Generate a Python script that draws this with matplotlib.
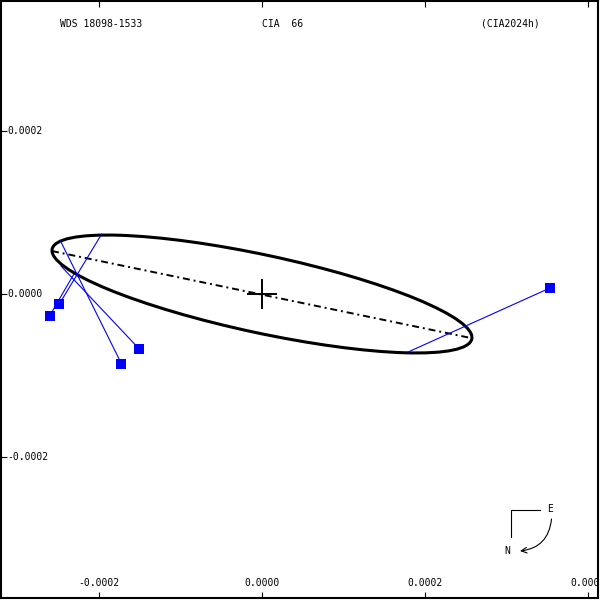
import matplotlib
matplotlib.use('Agg')
import matplotlib.pyplot as plt
import matplotlib.transforms as mtransforms
from matplotlib.lines import Line2D
from matplotlib.patches import Ellipse

# measured positions (blue squares)
obsX = [-2.490e-4, -2.608e-4, -1.507e-4, -1.728e-4, 3.538e-4]
obsY = [-1.23e-5, -2.67e-5, -6.76e-5, -8.54e-5, 7.4e-6]
# matching positions on the orbit
calcX = [-1.969e-4, -2.310e-4, -2.469e-4, -2.475e-4, 1.794e-4]
calcY = [7.37e-5, 2.46e-5, 3.44e-5, 6.51e-5, -7.13e-5]

# line of nodes
nodeX = [-2.580e-4, 2.568e-4]
nodeY = [5.28e-5, -5.41e-5]

# apparent orbit
orbitCenter = (0.0, 0.0)
orbitA = 2.636e-4
orbitB = 4.79e-5
orbitAngle = -12.1

xTicks = [-0.0002, 0.0, 0.0002, 0.0004]
yTicks = [-0.0002, 0.0, 0.0002]

titles = ["WDS 18098-1533", "CIA  66", "(CIA2024h)"]
titleX = [60, 262, 481]

FONT = 'DejaVu Sans Mono'

fig = plt.figure(figsize=(6, 6), dpi=100)
ax = fig.add_axes([1 / 600, 2 / 600, 597 / 600, 597 / 600])
ax.set_xlim(-3.206e-4, 4.128e-4)
ax.set_ylim(-3.735e-4, 3.600e-4)

for s in ax.spines.values():
    s.set_linewidth(1.5)

ax.set_xticks(xTicks)
ax.set_yticks(yTicks)
ax.tick_params(axis='x', direction='in', length=4.5, width=0.8, top=True, bottom=True,
               labelbottom=False)
ax.tick_params(axis='y', direction='in', length=4, width=0.8, left=True, right=False,
               labelleft=False)

tx = mtransforms.blended_transform_factory(ax.transData, ax.transAxes)
for v in xTicks:
    ax.text(v, 0.025, f"{v:.4f}", transform=tx, ha='center', va='center',
            family=FONT, fontsize=7, clip_on=True)
ty = mtransforms.blended_transform_factory(ax.transAxes, ax.transData)
for v in yTicks:
    ax.text(0.0105, v, f"{v:.4f}", transform=ty, ha='left', va='center',
            family=FONT, fontsize=7, clip_on=True)

# orbit and line of nodes
ax.add_patch(Ellipse(orbitCenter, 2 * orbitA, 2 * orbitB, angle=orbitAngle,
                     fill=False, ec='black', lw=2.2))
ax.plot(nodeX, nodeY, color='black', lw=1.4, dashes=(3.6, 2, 1, 2))

# primary
ax.plot([0], [0], marker='+', color='black', markersize=22, mew=1.4)

# O-C lines and measures
for i in range(len(obsX)):
    ax.plot([obsX[i], calcX[i]], [obsY[i], calcY[i]], color='#0000ff', lw=0.8)
ax.plot(obsX, obsY, 's', color='#0000ff', markersize=7, mew=0)

for t, x in zip(titles, titleX):
    fig.text(x / 600, 1 - 24 / 600, t, ha='left', va='center', family=FONT, fontsize=7)


def fpx(x, y):
    return (x / 600, 1 - y / 600)


# compass
cx, cy = zip(fpx(540, 509.5), fpx(510.7, 509.5), fpx(510.7, 537))
fig.add_artist(Line2D(cx, cy, transform=fig.transFigure, color='black', lw=0.8))
fig.text(*fpx(550, 509), "E", ha='center', va='center', family=FONT, fontsize=7)
fig.text(*fpx(507.5, 551.5), "N", ha='center', va='center', family=FONT, fontsize=7)
ax.annotate("", xy=fpx(520, 551), xytext=fpx(551.5, 519), xycoords='figure fraction',
            textcoords='figure fraction',
            arrowprops=dict(arrowstyle='->,head_length=0.4,head_width=0.2',
                            connectionstyle='arc3,rad=-0.4', lw=0.8, color='black',
                            shrinkA=0, shrinkB=0))

fig.savefig('out.png', dpi=100)
